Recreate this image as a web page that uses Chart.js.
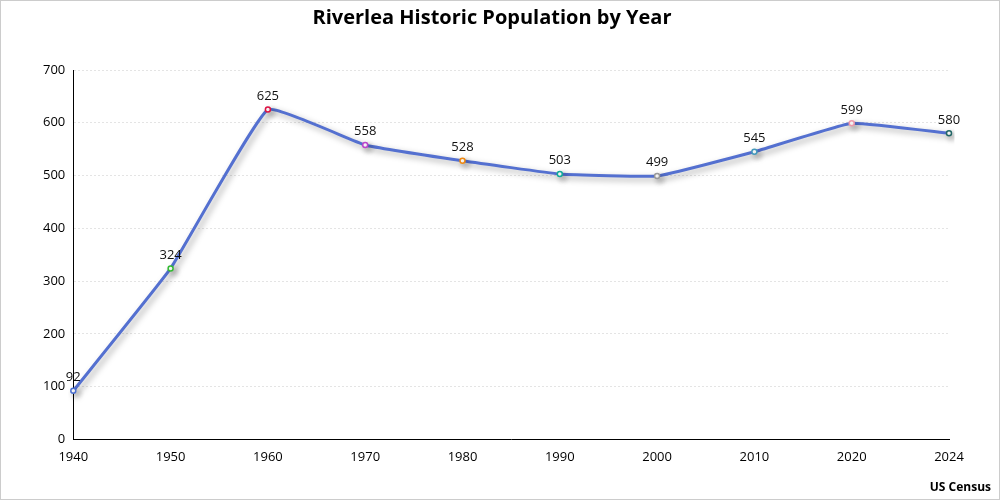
<!DOCTYPE html>
<html>
<head>
<meta charset="utf-8">
<script src="https://cdn.jsdelivr.net/npm/chart.js@4.4.0/dist/chart.umd.min.js"></script>
<style>
  html, body { margin: 0; padding: 0; background: #fff; }
  #wrap { width: 998px; height: 498px; border: 1px solid #ccc; }
</style>
</head>
<body>
<div id="wrap"><canvas id="c"></canvas></div>
<script>
var years = ["1940", "1950", "1960", "1970", "1980", "1990", "2000", "2010", "2020", "2024"];
var population = [92, 324, 625, 558, 528, 503, 499, 545, 599, 580];
var pointColors = ['#4a6fd0', '#33bb33', '#dd1144', '#bb44cc', '#ee8811',
                   '#11aa99', '#999999', '#4499bb', '#ee99aa', '#226666'];
var sourceText = 'US Census';

// drop shadow under the line
var shadowPlugin = {
    id: 'shadow',
    beforeDatasetDraw: function (chart) {
        var ctx = chart.ctx;
        ctx.save();
        ctx.shadowColor = 'rgba(0,0,0,0.35)';
        ctx.shadowBlur = 6;
        ctx.shadowOffsetX = 3;
        ctx.shadowOffsetY = 3;
    },
    afterDatasetDraw: function (chart) {
        chart.ctx.restore();
    }
};

// value labels above points + source note bottom right
var labelPlugin = {
    id: 'valueLabels',
    afterDatasetsDraw: function (chart) {
        var ctx = chart.ctx;
        var meta = chart.getDatasetMeta(0);
        ctx.save();
        ctx.font = '13px "Open Sans", sans-serif';
        ctx.fillStyle = '#111';
        ctx.textAlign = 'center';
        ctx.textBaseline = 'bottom';
        meta.data.forEach(function (pt, i) {
            ctx.fillText(population[i], pt.x, pt.y - 7);
        });
        ctx.font = 'bold 12px "Open Sans", sans-serif';
        ctx.fillStyle = '#000';
        ctx.textAlign = 'right';
        ctx.textBaseline = 'middle';
        ctx.fillText(sourceText, chart.width - 8, chart.height - 11);
        ctx.restore();
    }
};

var ctx = document.getElementById('c').getContext('2d');
var chart = new Chart(ctx, {
    type: 'line',
    data: {
        labels: years,
        datasets: [{
            data: population,
            borderColor: '#5470d0',
            borderWidth: 3,
            tension: 0.1,
            pointRadius: 2.5,
            pointBorderWidth: 1.5,
            pointBackgroundColor: '#fff',
            pointBorderColor: pointColors
        }]
    },
    options: {
        responsive: true,
        maintainAspectRatio: false,
        animation: false,
        layout: {
            padding: { left: 34, right: 50, top: 0, bottom: 32 }
        },
        plugins: {
            legend: { display: false },
            tooltip: { enabled: false },
            title: {
                display: true,
                text: 'Riverlea Historic Population by Year',
                color: '#000',
                font: { family: 'Open Sans', size: 20, weight: 'bold' },
                padding: { top: 5, bottom: 40 }
            }
        },
        scales: {
            x: {
                offset: false,
                grid: { display: false },
                border: { display: true, color: '#000', width: 1 },
                ticks: { color: '#000', font: { family: 'Open Sans', size: 13 }, padding: 2 }
            },
            y: {
                min: 0,
                max: 700,
                ticks: { stepSize: 100, color: '#000', font: { family: 'Open Sans', size: 13 }, padding: 8 },
                grid: { color: '#e4e4e4', drawTicks: false },
                border: { display: true, color: '#000', width: 1, dash: [2, 2] }
            }
        }
    },
    plugins: [shadowPlugin, labelPlugin]
});
</script>
</body>
</html>
